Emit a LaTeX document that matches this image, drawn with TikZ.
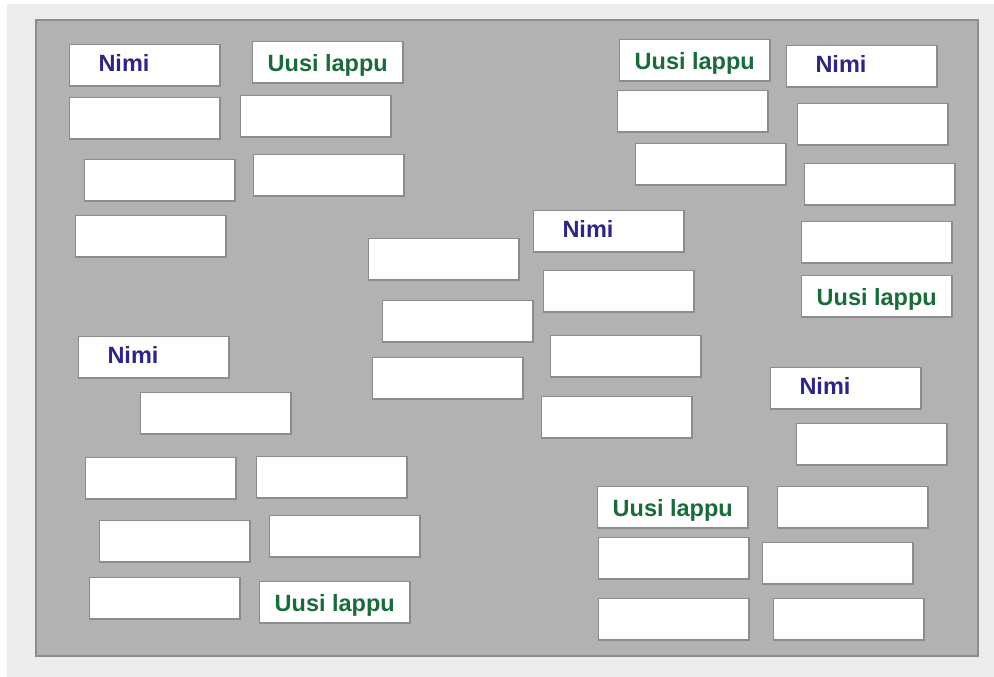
\documentclass[tikz,border=0pt]{standalone}
\usepackage{fontspec}
\setsansfont{Liberation Sans}
\usetikzlibrary{positioning}

\definecolor{pohja}{RGB}{236,236,236}
\definecolor{taulu}{RGB}{178,178,178}
\definecolor{reuna}{RGB}{140,140,140}
\definecolor{nimisin}{RGB}{46,38,131}
\definecolor{lappuvihr}{RGB}{26,107,58}

\begin{document}
\begin{tikzpicture}[
    x=1pt, y=-1pt,
    lappu/.style={draw=reuna, line width=1.5pt, fill=white, anchor=north west,
                  xshift=0.75pt, yshift=-0.75pt,
                  minimum width=150.5pt, minimum height=41.5pt, inner sep=0pt},
    nimi/.style={lappu, text=nimisin, font=\fontsize{23.5}{26}\sffamily\bfseries,
                 align=left, text width=92.5pt, inner xsep=29pt,
                 text height=13pt, text depth=0pt},
    uusi/.style={lappu, text=lappuvihr, font=\fontsize{23.5}{26}\sffamily\bfseries,
                 text height=19pt, text depth=0pt}
]
\useasboundingbox (0,0) rectangle (994,677);

% ======================
% Background and board
% ======================
\fill[white] (0,0) rectangle (994,677);
\fill[pohja] (7,4) rectangle (994,677);
\draw[reuna, fill=taulu, line width=2pt] (36,20) rectangle (978,656);

% ======================
% Name notes
% ======================
\node[nimi] (N1) at (68,43)  {Nimi};
\node[nimi] (N2) at (785,44) {Nimi};
\node[nimi] (N3) at (532,209) {Nimi};
\node[nimi] (N4) at (77,335) {Nimi};
\node[nimi] (N5) at (769,366) {Nimi};

% ======================
% New note buttons
% ======================
\node[uusi] (U1) at (251,40)  {Uusi lappu};
\node[uusi] (U2) at (618,38)  {Uusi lappu};
\node[uusi] (U3) at (800,274) {Uusi lappu};
\node[uusi] (U4) at (258,580) {Uusi lappu};
\node[uusi] (U5) at (596,485) {Uusi lappu};

% ======================
% Empty notes
% ======================
\foreach \x/\y [count=\i] in {
    68/96, 239/94, 83/158, 252/153, 74/214,          % top left
    616/89, 796/102, 634/142, 803/162, 800/220,      % top right
    367/237, 542/269, 381/299, 549/334, 371/356, 540/395, % middle
    139/391, 84/456, 255/455, 98/519, 268/514, 88/576,    % bottom left
    795/422, 776/485, 597/536, 761/541, 597/597, 772/597  % bottom right
} {
    \node[lappu] (T\i) at (\x,\y) {};
}

\end{tikzpicture}
\end{document}
